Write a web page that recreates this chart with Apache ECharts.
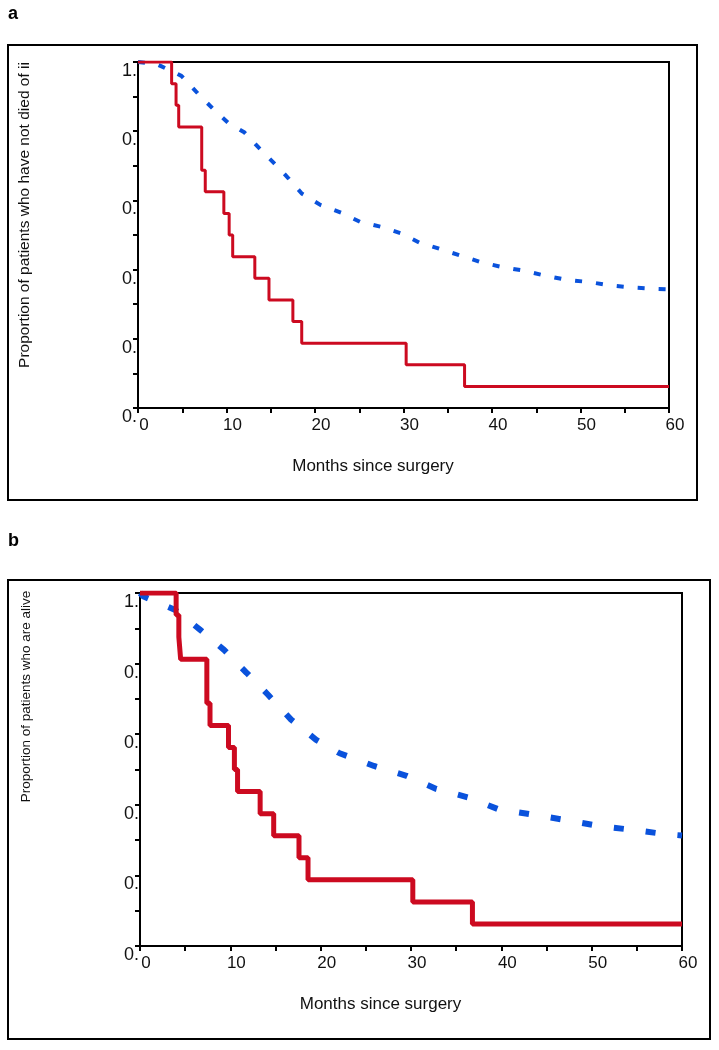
<!DOCTYPE html>
<html>
<head>
<meta charset="utf-8">
<script src="https://cdn.jsdelivr.net/npm/echarts@6/dist/echarts.min.js"></script>
<style>
html,body{margin:0;padding:0;background:#fff;}
#chart{width:719px;height:1050px;}
</style>
</head>
<body>
<div id="chart"></div>
<script>
// ---- data ----
const panelLabels = ['a', 'b'];
const xTitle = 'Months since surgery';
const yTitleA = 'Proportion of patients who have not died of ii';
const yTitleB = 'Proportion of patients who are alive';
const xTickLabels = ['0', '10', '20', '30', '40', '50', '60'];
const yTickLabels = ['0.', '0.', '0.', '0.', '0.', '1.'];

// red step curve (small group), panel a
const redMonthsA = [0, 3.8, 4.3, 4.6, 7.2, 7.6, 9.7, 10.3, 10.7, 13.2, 14.8, 17.5, 18.5, 30.3, 36.9, 60];
const redSurvA   = [1, 0.9375, 0.875, 0.8125, 0.6875, 0.625, 0.5625, 0.5, 0.4375, 0.375, 0.3125, 0.25, 0.1875, 0.125, 0.0625, 0.0625];
// blue dashed curve, panel a
const blueMonthsA = [0, 2.0, 2.6, 4.9, 6.8, 8.5, 10.2, 12.0, 13.7, 15.4, 17.0, 18.5, 20.6, 23.0, 25.1, 27.4, 29.7, 31.8, 34.2, 36.5, 38.8, 41.2, 43.6, 46.1, 48.5, 51.0, 53.4, 55.9, 58.7, 60];
const blueSurvA   = [1, 0.995, 0.988, 0.960, 0.908, 0.864, 0.824, 0.797, 0.751, 0.707, 0.664, 0.620, 0.587, 0.564, 0.538, 0.524, 0.505, 0.478, 0.459, 0.440, 0.421, 0.407, 0.397, 0.382, 0.370, 0.364, 0.354, 0.348, 0.344, 0.343];

// red step curve, panel b
const redMonthsB = [0, 4.0, 4.3, 4.5, 7.4, 7.75, 9.8, 10.45, 10.8, 13.3, 14.8, 17.6, 18.6, 30.2, 36.8, 60];
const redSurvB   = [1, 0.9375, 0.875, 0.8125, 0.6875, 0.625, 0.5625, 0.5, 0.4375, 0.375, 0.3125, 0.25, 0.1875, 0.125, 0.0625, 0.0625];
// blue dashed curve, panel b
const blueMonthsB = [0, 0.4, 3.9, 6.6, 9.3, 11.8, 14.2, 16.7, 19.5, 22.1, 25.9, 29.5, 32.8, 36.3, 39.6, 43.3, 47.1, 50.8, 54.5, 58.1, 60];
const blueSurvB   = [1, 0.990, 0.952, 0.897, 0.839, 0.774, 0.711, 0.642, 0.584, 0.546, 0.510, 0.482, 0.445, 0.421, 0.388, 0.373, 0.357, 0.340, 0.329, 0.317, 0.313];

// ---- chart ----
const FONT = 'Liberation Sans, Arial, sans-serif';
const RED = '#cc0a20';
const BLUE = '#0a52dc';
const zip = (xs, ys) => xs.map((x, i) => [x, ys[i]]);

function xAxisFor(gi) {
  return {
    type: 'value', gridIndex: gi, min: 0, max: 60, interval: 10,
    name: xTitle, nameLocation: 'middle', nameGap: 50,
    nameTextStyle: { fontFamily: FONT, fontSize: 17, color: '#111', padding: [0, 61, 0, 0] },
    axisLine: { show: true, onZero: false, lineStyle: { color: '#000', width: 2 } },
    axisTick: { show: true, inside: false, length: 5, lineStyle: { color: '#000', width: 2 } },
    minorTick: { show: true, splitNumber: 2, length: 5, lineStyle: { color: '#000', width: 2 } },
    splitLine: { show: false },
    axisLabel: {
      margin: 9, fontFamily: FONT, fontSize: 17, color: '#111', padding: [0, 0, 0, 12],
      formatter: v => xTickLabels[Math.round(v / 10)]
    }
  };
}
function yAxisFor(gi, title, pad, gap, fs) {
  return {
    type: 'value', gridIndex: gi, min: 0, max: 1, interval: 0.2,
    name: title, nameLocation: 'middle', nameGap: gap, nameRotate: 90,
    nameTextStyle: { fontFamily: FONT, fontSize: fs, color: '#111', padding: [0, 0, 0, pad] },
    axisLine: { show: true, onZero: false, lineStyle: { color: '#000', width: 2 } },
    axisTick: { show: true, inside: false, length: 5, lineStyle: { color: '#000', width: 2 } },
    minorTick: { show: true, splitNumber: 2, length: 5, lineStyle: { color: '#000', width: 2 } },
    splitLine: { show: false },
    axisLabel: {
      margin: 1, fontFamily: FONT, fontSize: 18, color: '#111', verticalAlign: 'top',
      formatter: v => yTickLabels[Math.round(v / 0.2)]
    }
  };
}

const chart = echarts.init(document.getElementById('chart'), null, { renderer: 'canvas' });
chart.setOption({
  backgroundColor: '#fff',
  animation: false,
  grid: [
    { left: 138, top: 62, width: 531, height: 346, show: true, borderColor: '#000', borderWidth: 2, backgroundColor: 'transparent' },
    { left: 140, top: 593, width: 542, height: 353, show: true, borderColor: '#000', borderWidth: 2, backgroundColor: 'transparent' }
  ],
  xAxis: [xAxisFor(0), xAxisFor(1)],
  yAxis: [yAxisFor(0, yTitleA, 40, 105, 15.5), yAxisFor(1, yTitleB, 146, 107, 13.5)],
  graphic: [
    { type: 'rect', shape: { x: 8, y: 45, width: 689, height: 455 }, style: { fill: 'none', stroke: '#000', lineWidth: 2 }, z: -1 },
    { type: 'rect', shape: { x: 8, y: 580, width: 702, height: 459 }, style: { fill: 'none', stroke: '#000', lineWidth: 2 }, z: -1 },
    { type: 'text', left: 8, top: 5, style: { text: panelLabels[0], font: 'bold 18px ' + FONT, fill: '#000' } },
    { type: 'text', left: 8, top: 532, style: { text: panelLabels[1], font: 'bold 18px ' + FONT, fill: '#000' } }
  ],
  series: [
    { type: 'line', xAxisIndex: 0, yAxisIndex: 0, data: zip(blueMonthsA, blueSurvA), showSymbol: false, symbol: 'none',
      lineStyle: { color: BLUE, width: 4, type: [7, 14], cap: 'butt' }, z: 3 },
    { type: 'line', xAxisIndex: 0, yAxisIndex: 0, data: zip(redMonthsA, redSurvA), step: 'end', showSymbol: false, symbol: 'none',
      lineStyle: { color: RED, width: 3 }, z: 4 },
    { type: 'line', xAxisIndex: 1, yAxisIndex: 1, data: zip(blueMonthsB, blueSurvB), showSymbol: false, symbol: 'none',
      lineStyle: { color: BLUE, width: 6, type: [10, 22], cap: 'butt' }, z: 3 },
    { type: 'line', xAxisIndex: 1, yAxisIndex: 1, data: zip(redMonthsB, redSurvB), step: 'end', showSymbol: false, symbol: 'none',
      lineStyle: { color: RED, width: 5 }, z: 4 }
  ]
});
</script>
</body>
</html>
